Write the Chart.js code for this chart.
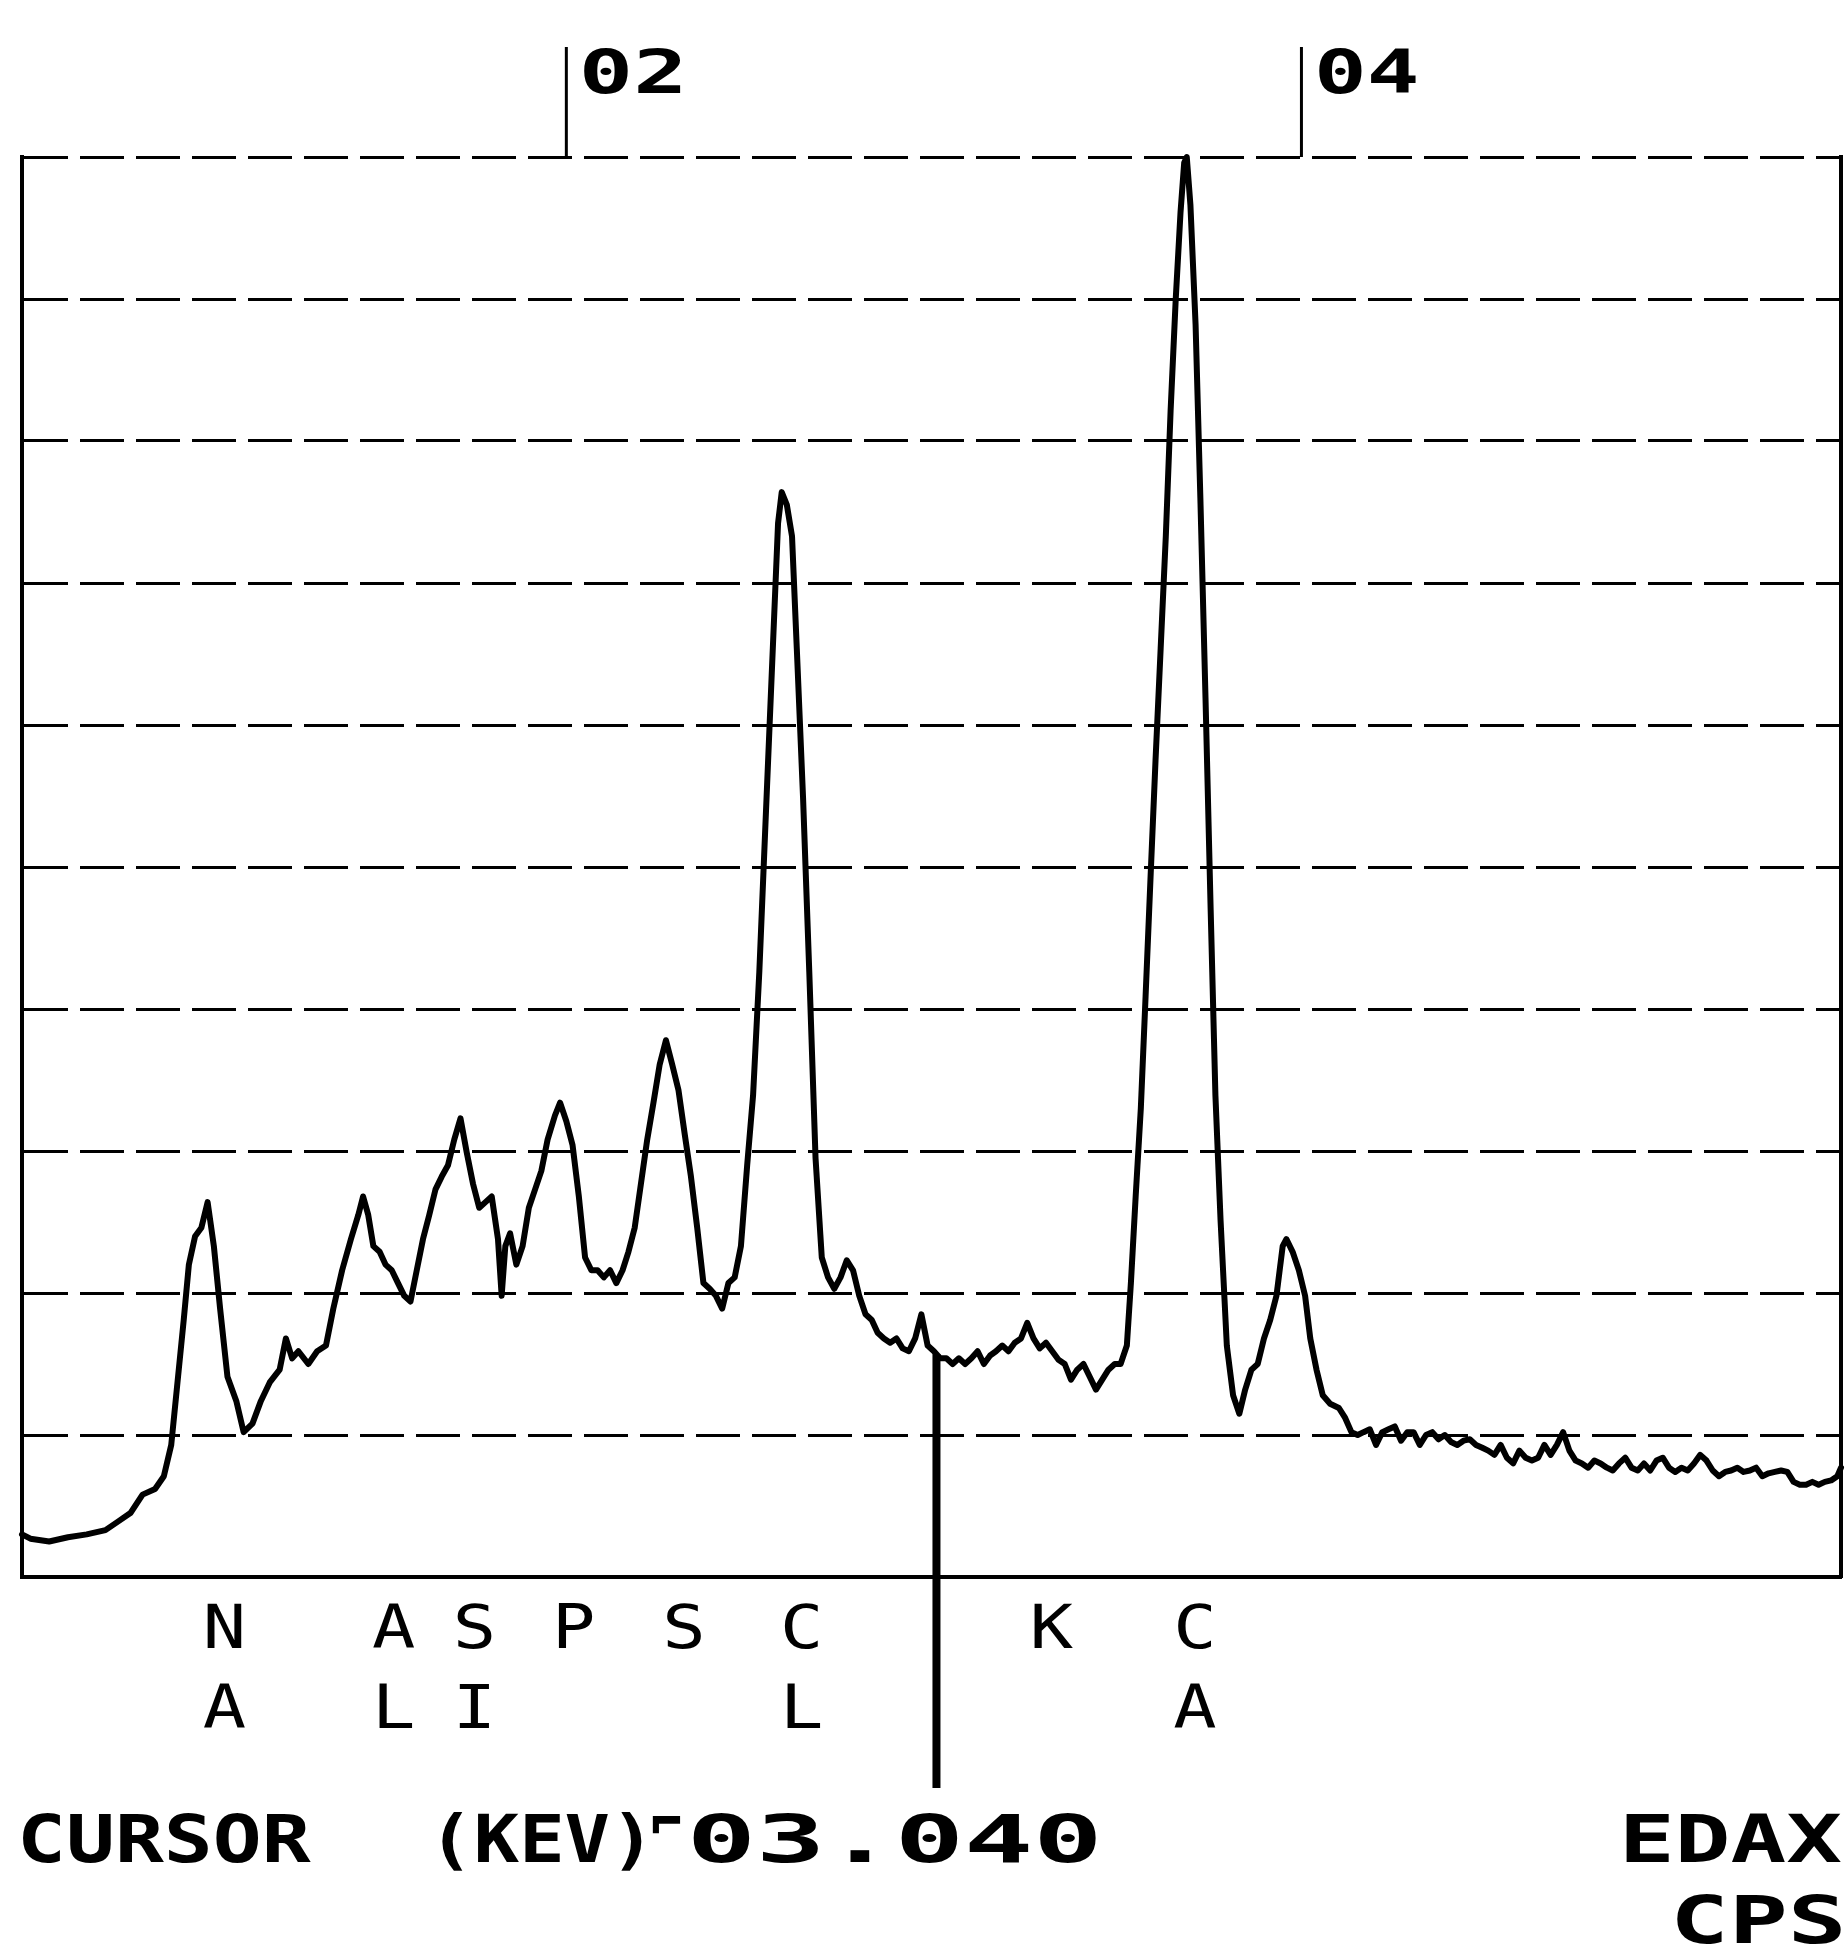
<!DOCTYPE html>
<html>
<head>
<meta charset="utf-8">
<script src="https://cdn.jsdelivr.net/npm/chart.js@4.4.1/dist/chart.umd.min.js"></script>
<style>
html,body{margin:0;padding:0;background:#fff;}
#wrap{width:1845px;height:1953px;position:relative;}
</style>
</head>
<body>
<div id="wrap"><canvas id="c"></canvas></div>
<script>
// Energy (keV) of each sampled point of the spectrum
const energyKeV = [
0.519,0.542,0.593,0.644,0.695,0.746,0.780,0.814,0.847,0.881,
0.905,0.925,0.942,0.959,0.973,0.990,1.007,1.024,1.041,1.058,
1.078,1.102,1.122,1.146,1.169,1.193,1.220,1.237,1.254,1.271,
1.298,1.322,1.346,1.366,1.390,1.414,1.434,1.447,1.461,1.475,
1.492,1.508,1.525,1.542,1.559,1.576,1.593,1.610,1.627,1.644,
1.661,1.678,1.695,1.712,1.729,1.746,1.763,1.780,1.797,1.814,
1.824,1.834,1.847,1.864,1.881,1.898,1.915,1.932,1.949,1.969,
1.983,2.000,2.017,2.034,2.051,2.068,2.085,2.102,2.119,2.136,
2.153,2.169,2.186,2.203,2.220,2.237,2.254,2.271,2.288,2.305,
2.322,2.339,2.356,2.373,2.390,2.407,2.424,2.441,2.458,2.475,
2.492,2.508,2.525,2.542,2.559,2.576,2.586,2.600,2.614,2.627,
2.644,2.661,2.678,2.695,2.712,2.729,2.746,2.763,2.780,2.797,
2.814,2.831,2.847,2.864,2.881,2.898,2.915,2.932,2.949,2.966,
2.983,3.000,3.017,3.034,3.051,3.068,3.085,3.102,3.119,3.136,
3.153,3.169,3.186,3.203,3.220,3.237,3.254,3.271,3.288,3.305,
3.322,3.339,3.356,3.373,3.390,3.407,3.424,3.441,3.458,3.475,
3.492,3.508,3.525,3.536,3.549,3.563,3.576,3.590,3.603,3.617,
3.631,3.644,3.658,3.671,3.681,3.688,3.698,3.712,3.725,3.739,
3.753,3.766,3.780,3.797,3.814,3.831,3.847,3.864,3.881,3.898,
3.915,3.932,3.949,3.959,3.976,3.993,4.010,4.024,4.041,4.058,
4.078,4.102,4.119,4.136,4.153,4.169,4.186,4.203,4.220,4.237,
4.254,4.271,4.288,4.305,4.322,4.339,4.356,4.373,4.390,4.407,
4.424,4.441,4.458,4.475,4.492,4.508,4.525,4.542,4.559,4.576,
4.593,4.610,4.627,4.644,4.661,4.678,4.695,4.712,4.729,4.746,
4.763,4.780,4.797,4.814,4.831,4.847,4.864,4.881,4.898,4.915,
4.932,4.949,4.966,4.983,5.000,5.017,5.034,5.051,5.068,5.085,
5.102,5.119,5.136,5.153,5.169,5.186,5.203,5.220,5.237,5.254,
5.271,5.288,5.305,5.322,5.339,5.356,5.373,5.390,5.407,5.424,
5.441,5.458,5.468
];
// Counts, as a percentage of the full vertical scale (10 grid divisions)
const countsPct = [
3.0,2.7,2.5,2.8,3.0,3.3,3.9,4.5,5.8,6.2,
7.1,9.3,13.7,18.1,22.0,24.0,24.6,26.4,23.3,18.9,
14.1,12.4,10.2,10.8,12.4,13.7,14.6,16.8,15.4,15.9,
15.0,15.9,16.3,18.9,21.6,23.8,25.5,26.8,25.5,23.3,
22.9,22.0,21.6,20.7,19.8,19.4,21.6,23.8,25.5,27.3,
28.2,29.0,30.8,32.3,29.9,27.7,26.0,26.4,26.8,23.8,
19.8,23.3,24.2,22.0,23.3,26.0,27.3,28.6,30.8,32.5,
33.4,32.1,30.4,26.8,22.5,21.6,21.6,21.1,21.6,20.7,
21.6,22.9,24.6,27.7,30.8,33.4,36.1,37.8,36.1,34.3,
31.2,28.2,24.6,20.7,20.3,19.8,18.9,20.7,21.1,23.3,
29.0,33.9,42.6,53.2,63.7,74.2,76.4,75.5,73.3,65.4,
54.9,42.6,29.5,22.5,21.1,20.3,21.1,22.3,21.6,19.8,
18.5,18.1,17.2,16.8,16.5,16.8,16.1,15.9,16.8,18.5,
16.3,15.9,15.4,15.4,15.0,15.4,15.0,15.4,15.9,15.0,
15.6,15.9,16.3,15.9,16.5,16.8,17.9,16.8,16.1,16.5,
15.9,15.3,15.0,13.9,14.6,15.0,14.1,13.2,13.9,14.6,
15.0,15.0,16.3,20.7,26.8,33.0,40.9,49.6,57.5,65.4,
73.3,82.1,90.0,96.1,99.6,100,96.6,88.2,76.0,61.9,
47.0,33.9,25.1,16.3,12.8,11.5,13.2,14.6,15.0,16.8,
18.1,19.8,23.3,23.8,22.9,21.6,19.8,16.8,14.6,12.8,
12.2,11.9,11.2,10.2,10.0,10.2,10.4,9.3,10.2,10.4,
10.6,9.6,10.2,10.2,9.3,10.0,10.2,9.7,10.0,9.5,
9.3,9.6,9.7,9.3,9.1,8.9,8.6,9.3,8.4,8.0,
8.9,8.4,8.2,8.4,9.3,8.6,9.3,10.2,8.9,8.2,
8.0,7.7,8.2,8.0,7.7,7.5,8.0,8.4,7.7,7.5,
8.0,7.5,8.2,8.4,7.7,7.4,7.7,7.5,8.0,8.6,
8.2,7.5,7.1,7.4,7.5,7.7,7.4,7.5,7.7,7.1,
7.3,7.4,7.5,7.4,6.7,6.5,6.5,6.7,6.5,6.7,
6.8,7.1,7.7
];
// Axis range (keV) and scale marks along the top edge
const energyMin = 0.519;
const energyMax = 5.468;
const countMax = 100;
const countGridStep = 10;
const markerKeV = [2, 4];
const markerLabels = ['02', '04'];
// Element labels under the axis (two-row abbreviations)
const elementKeV   = [1.07, 1.53, 1.75, 2.02, 2.32, 2.64, 3.32, 3.71];
const elementRow1  = ['N', 'A', 'S', 'P', 'S', 'C', 'K', 'C'];
const elementRow2  = ['A', 'L', 'I', '',  '',  'L', '',  'A'];
// Cursor
const cursorKeV = 3.007;
const cursorTexts = ['CURSOR', '(KEV)', '\u2310', '03.040'];
const sideTexts = ['EDAX', 'CPS'];

function fitText(ctx, text, left, right, baseline, font) {
  ctx.save();
  ctx.font = font;
  ctx.textAlign = 'left';
  ctx.textBaseline = 'alphabetic';
  const m = ctx.measureText(text);
  const ink = m.actualBoundingBoxLeft + m.actualBoundingBoxRight;
  const sx = (right - left) / ink;
  ctx.translate(left + m.actualBoundingBoxLeft * sx, baseline);
  ctx.scale(sx, 1);
  ctx.fillStyle = '#000';
  ctx.fillText(text, 0, 0);
  ctx.restore();
}
function centerText(ctx, text, cx, baseline, font, sx) {
  ctx.save();
  ctx.font = font;
  ctx.textAlign = 'center';
  ctx.textBaseline = 'alphabetic';
  ctx.translate(cx, baseline);
  ctx.scale(sx, 1);
  ctx.fillStyle = '#000';
  ctx.fillText(text, 0, 0);
  ctx.restore();
}
function interp(xs, ys, x) {
  for (let i = 1; i < xs.length; i++) {
    if (xs[i] >= x) {
      const t = (x - xs[i-1]) / (xs[i] - xs[i-1]);
      return ys[i-1] + t * (ys[i] - ys[i-1]);
    }
  }
  return ys[ys.length-1];
}

const decorPlugin = {
  id: 'decor',
  beforeDraw(chart) {
    const ctx = chart.ctx;
    ctx.save();
    ctx.fillStyle = '#fff';
    ctx.fillRect(0, 0, chart.width, chart.height);
    ctx.restore();
  },
  afterDraw(chart) {
    const ctx = chart.ctx;
    const xs = chart.scales.x, ys = chart.scales.y;
    const area = chart.chartArea;
    // top scale markers
    markerKeV.forEach((e, i) => {
      const px = xs.getPixelForValue(e);
      ctx.save();
      ctx.strokeStyle = '#000';
      ctx.lineWidth = 3;
      ctx.beginPath();
      ctx.moveTo(px, 47);
      ctx.lineTo(px, area.top);
      ctx.stroke();
      ctx.restore();
      fitText(ctx, markerLabels[i], px + 17, px + 115, 93, 'bold 60px "DejaVu Sans Mono"');
    });
    // element labels
    elementKeV.forEach((e, i) => {
      const px = xs.getPixelForValue(e);
      if (elementRow1[i]) centerText(ctx, elementRow1[i], px, 1648, '60px "DejaVu Sans Mono"', 1.2);
      if (elementRow2[i]) centerText(ctx, elementRow2[i], px, 1728, '60px "DejaVu Sans Mono"', 1.2);
    });
    // cursor line
    const cx = xs.getPixelForValue(cursorKeV);
    const cy = ys.getPixelForValue(interp(energyKeV, countsPct, cursorKeV));
    ctx.save();
    ctx.strokeStyle = '#000';
    ctx.lineWidth = 8;
    ctx.beginPath();
    ctx.moveTo(cx, cy);
    ctx.lineTo(cx, 1788);
    ctx.stroke();
    ctx.restore();
    // bottom texts
    const f = 'bold 66px "DejaVu Sans Mono"';
    fitText(ctx, cursorTexts[0], 22, 311, 1862, f);
    fitText(ctx, cursorTexts[1], 442, 642, 1862, f);
    fitText(ctx, cursorTexts[2], 652, 680, 1845, f);
    fitText(ctx, cursorTexts[3], 692, 1096, 1862, f);
    fitText(ctx, sideTexts[0], 1626, 1841, 1862, f);
    fitText(ctx, sideTexts[1], 1676, 1841, 1943, f);
  }
};

const points = energyKeV.map((e, i) => ({x: e, y: countsPct[i]}));

new Chart(document.getElementById('c'), {
  type: 'line',
  data: {
    datasets: [{
      data: points,
      borderColor: '#000',
      borderWidth: 6,
      borderJoinStyle: 'round',
      borderCapStyle: 'round',
      pointRadius: 0,
      tension: 0,
      fill: false,
      clip: false
    }]
  },
  options: {
    responsive: true,
    maintainAspectRatio: false,
    animation: false,
    events: [],
    layout: { padding: { left: 22, right: 4, top: 157, bottom: 376 }, autoPadding: false },
    plugins: { legend: { display: false }, tooltip: { enabled: false } },
    scales: {
      x: {
        type: 'linear',
        min: energyMin,
        max: energyMax,
        ticks: { display: false },
        grid: { display: false, drawTicks: false },
        border: { display: true, color: '#000', width: 4 }
      },
      y: {
        min: 0,
        max: countMax,
        ticks: { display: false, stepSize: countGridStep },
        grid: { display: true, color: '#000', lineWidth: 3, drawTicks: false },
        border: { display: true, color: '#000', width: 4, dash: [44, 12] }
      },
      yRight: {
        position: 'right',
        min: 0,
        max: countMax,
        ticks: { display: false },
        grid: { display: false, drawTicks: false },
        border: { display: true, color: '#000', width: 4 }
      }
    }
  },
  plugins: [decorPlugin]
});
</script>
</body>
</html>
